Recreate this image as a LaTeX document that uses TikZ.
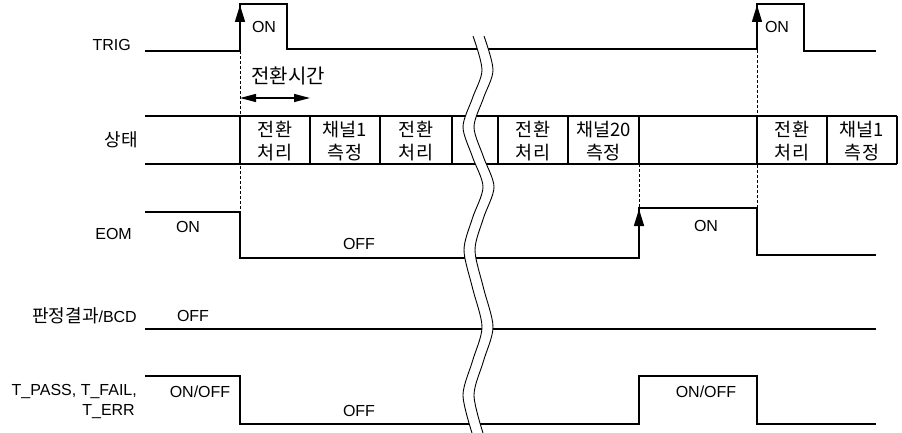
\documentclass[tikz,border=0pt]{standalone}
\usepackage{fontspec}
\setmainfont{Liberation Sans}
\newfontfamily\kr{Noto Sans CJK KR}
\usetikzlibrary{arrows.meta}
\begin{document}
\begin{tikzpicture}[x=1pt,y=-1pt,
  sig/.style={line width=1.5pt, line join=miter},
  guide/.style={densely dashed, line width=0.6pt},
  lab/.style={font=\fontsize{16}{19}\selectfont, inner sep=0pt},
  klab/.style={font=\kr\fontsize{20}{24}\selectfont, inner sep=0pt},
  boxtext/.style={font=\kr\fontsize{18.5}{23}\selectfont, align=center, inner sep=0pt},
  tipup/.style={-{Triangle[length=17pt,width=10pt]}},
  brk/.style={line width=0.9pt},
]
\useasboundingbox (0,0) rectangle (902,433);

% guide lines
\draw[guide] (240,51) -- (240,212);
\draw[guide] (639,164) -- (639,208);
\draw[guide] (757,50) -- (757,208);

% TRIG
\draw[sig] (145,51) -- (240,51) -- (240,4) -- (287,4) -- (287,49) -- (757,49) -- (757,4) -- (804,4) -- (804,51) -- (876,51);
\coordinate (ta1) at (240,32);
\coordinate (tb1) at (240,5);
\coordinate (ta2) at (757,32);
\coordinate (tb2) at (757,5);
\draw[sig, tipup] (ta1) -- (tb1);
\draw[sig, tipup] (ta2) -- (tb2);

% transition time arrow
\coordinate (d0) at (240,98);
\coordinate (d1) at (310,98);
\draw[line width=1.2pt, {Triangle[length=16pt,width=8pt]}-{Triangle[length=16pt,width=8pt]}] (d0) -- (d1);

% state row
\draw[sig] (145,116) -- (897,116);
\draw[sig] (145,164) -- (897,164);
\foreach \xx in {240,310,380,452,498,568,639,757,827,897}
  \draw[sig] (\xx,116) -- (\xx,164);

% EOM
\draw[sig] (145,212) -- (240,212) -- (240,258) -- (639,258) -- (639,208) -- (757,208) -- (757,255) -- (876,255);
\coordinate (ea) at (639,240);
\coordinate (eb) at (639,209);
\draw[sig, tipup] (ea) -- (eb);

% judgement / BCD
\draw[sig] (145,329) -- (876,329);

% T_PASS etc
\draw[sig] (145,376) -- (240,376) -- (240,424) -- (639,424) -- (639,376) -- (757,376) -- (757,424) -- (876,424);

% break
\fill[white] plot[smooth] coordinates {(473,36) (482,70) (472.5,98) (463,127) (472.5,157) (483,187) (472.5,218) (464,250) (472.5,288) (482,327) (472.5,361) (463,395) (472,433)}
  -- plot[smooth] coordinates {(483,433) (474,395) (483.5,361) (493,327) (483.5,288) (475,250) (483.5,218) (494,187) (483.5,157) (474,127) (483.5,98) (493,70) (484,36)} -- cycle;
\draw[brk] plot[smooth] coordinates {(473,36) (482,70) (472.5,98) (463,127) (472.5,157) (483,187) (472.5,218) (464,250) (472.5,288) (482,327) (472.5,361) (463,395) (472,433)};
\draw[brk] plot[smooth] coordinates {(484,36) (493,70) (483.5,98) (474,127) (483.5,157) (494,187) (483.5,218) (475,250) (483.5,288) (493,327) (483.5,361) (474,395) (483,433)};

% labels
\node[lab, anchor=base east] (trig) at (131,51) {TRIG};
\node[lab, anchor=base] (on1) at (264,33) {ON};
\node[lab, anchor=base] (on2) at (777,33) {ON};
\node[klab] (tt) at (288,76) {전환시간};
\node[klab, font=\kr\fontsize{18}{22}\selectfont] (st) at (121,140) {상태};

\node[boxtext] (b1) at (275,141) {전환\\처리};
\node[boxtext] (b2) at (345,141) {채널1\\측정};
\node[boxtext] (b3) at (416,141) {전환\\처리};
\node[boxtext] (b4) at (533,141) {전환\\처리};
\node[boxtext] (b5) at (603.5,141) {채널20\\측정};
\node[boxtext] (b6) at (792,141) {전환\\처리};
\node[boxtext] (b7) at (862,141) {채널1\\측정};

\node[lab, anchor=base east] (eom) at (132,239) {EOM};
\node[lab, anchor=base] (eon1) at (188,232) {ON};
\node[lab, anchor=base] (eoff) at (359,249) {OFF};
\node[lab, anchor=base] (eon2) at (706,231) {ON};

\node[lab, anchor=base east] (jd) at (137,322) {{\kr\fontsize{18}{21}\selectfont 판정결과}/BCD};
\node[lab, anchor=base] (joff) at (193,321) {OFF};

\node[lab, anchor=base east] (tp1) at (137,395) {T\_PASS, T\_FAIL,};
\node[lab, anchor=base east] (tp2) at (135,415) {T\_ERR};
\node[lab, anchor=base] (ton1) at (200,397) {ON/OFF};
\node[lab, anchor=base] (toff) at (359,416) {OFF};
\node[lab, anchor=base] (ton2) at (706,397) {ON/OFF};
\end{tikzpicture}
\end{document}
